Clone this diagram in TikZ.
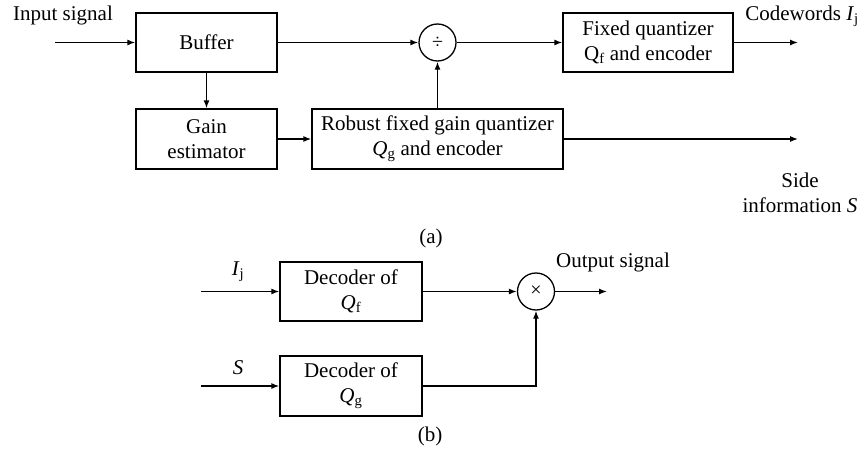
\documentclass[tikz,border=0pt]{standalone}
\usepackage{fontspec}
\setmainfont{Liberation Serif}
\usetikzlibrary{arrows.meta}

\begin{document}
\begin{tikzpicture}[x=1pt, y=-1pt,
    every node/.style={font=\fontsize{21}{25}\selectfont},
    block/.style={draw, line width=1.3pt, align=center, inner sep=0pt},
    knoten/.style={draw, circle, line width=1.3pt, minimum size=37, inner sep=0pt},
    pfeil/.style={line width=1.3pt, -{Latex[length=8pt,width=6pt]}}]
  \useasboundingbox (0,0) rectangle (862,455);

  % Bloecke Encoder (a)
  \node[block, minimum width=141, minimum height=59] (buffer) at (206.5,42.5) {Buffer};
  \node[block, minimum width=141, minimum height=60] (gain) at (206.5,139) {Gain\\estimator};
  \node[block, minimum width=251, minimum height=60] (robust) at (437.5,139) {Robust fixed gain quantizer\\\textit{Q}\textsubscript{g} and encoder};
  \node[block, minimum width=170, minimum height=59] (fixed) at (648,42.5) {Fixed quantizer\\Q\textsubscript{f} and encoder};
  \node[knoten] (div) at (437.5,42.5) {\fontsize{20}{20}\selectfont ÷};

  % freie Enden
  \coordinate (in) at (55,42.5);
  \coordinate (cw) at (798,42.5);
  \coordinate (si) at (798,139);

  % Beschriftungen (a)
  \node (inlabel) at (63,15) {Input signal};
  \node (cwlabel) at (802,16) {Codewords \textit{I}\textsubscript{j}};
  \node[align=center] (silabel) at (800,193) {Side\\information \textit{S}};
  \node (alabel) at (431,238) {(a)};

  % Verbindungen (a)
  \draw[pfeil] (in) -- (buffer);
  \draw[pfeil] (buffer) -- (div);
  \draw[pfeil] (buffer) -- (gain);
  \draw[pfeil] (gain) -- (robust);
  \draw[pfeil] (div |- robust.north) -- (div);
  \draw[pfeil] (div) -- (fixed);
  \draw[pfeil] (fixed) -- (cw);
  \draw[pfeil] (robust) -- (si);

  % Bloecke Decoder (b)
  \node[block, minimum width=142, minimum height=59] (decf) at (351,291.5) {Decoder of\\\textit{Q}\textsubscript{f}};
  \node[block, minimum width=142, minimum height=60] (decg) at (351,386) {Decoder of\\\textit{Q}\textsubscript{g}};
  \node[knoten] (mult) at (536,291.5) {\fontsize{20}{20}\selectfont ×};

  % freie Enden
  \coordinate (ij) at (201,291.5);
  \coordinate (sin) at (201,386);
  \coordinate (out) at (607,291.5);

  % Beschriftungen (b)
  \node (ijlabel) at (238,272) {\textit{I}\textsubscript{j}};
  \node (slabel) at (238,368) {\textit{S}};
  \node (outlabel) at (613,262) {Output signal};
  \node (blabel) at (430,436) {(b)};

  % Verbindungen (b)
  \draw[pfeil] (ij) -- (decf);
  \draw[pfeil] (sin) -- (decg);
  \draw[pfeil] (decf) -- (mult);
  \draw[pfeil] (decg) -| (mult);
  \draw[pfeil] (mult) -- (out);
\end{tikzpicture}
\end{document}
